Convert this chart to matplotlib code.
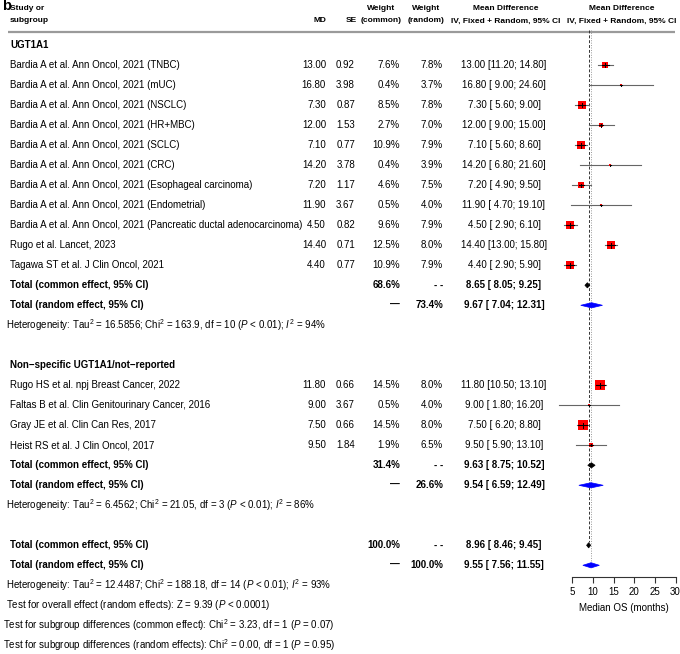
import matplotlib
matplotlib.use("Agg")
import matplotlib.pyplot as plt
from matplotlib.patches import Polygon
import numpy as np

plt.rcParams['font.family'] = ['Liberation Sans', 'DejaVu Sans']
plt.rcParams['mathtext.fontset'] = 'custom'
plt.rcParams['mathtext.rm'] = 'Liberation Sans'
plt.rcParams['mathtext.it'] = 'Liberation Sans:italic'
plt.rcParams['mathtext.bf'] = 'Liberation Sans:bold'

# ---------------- data ----------------
group1_name = "UGT1A1"
group1_studies = [
    "Bardia A et al. Ann Oncol, 2021 (TNBC)",
    "Bardia A et al. Ann Oncol, 2021 (mUC)",
    "Bardia A et al. Ann Oncol, 2021 (NSCLC)",
    "Bardia A et al. Ann Oncol, 2021 (HR+MBC)",
    "Bardia A et al. Ann Oncol, 2021 (SCLC)",
    "Bardia A et al. Ann Oncol, 2021 (CRC)",
    "Bardia A et al. Ann Oncol, 2021 (Esophageal carcinoma)",
    "Bardia A et al. Ann Oncol, 2021 (Endometrial)",
    "Bardia A et al. Ann Oncol, 2021 (Pancreatic ductal adenocarcinoma)",
    "Rugo et al. Lancet, 2023",
    "Tagawa ST et al. J Clin Oncol, 2021",
]
group1_md = [13.00, 16.80, 7.30, 12.00, 7.10, 14.20, 7.20, 11.90, 4.50, 14.40, 4.40]
group1_se = [0.92, 3.98, 0.87, 1.53, 0.77, 3.78, 1.17, 3.67, 0.82, 0.71, 0.77]
group1_wc = [7.6, 0.4, 8.5, 2.7, 10.9, 0.4, 4.6, 0.5, 9.6, 12.5, 10.9]
group1_wr = [7.8, 3.7, 7.8, 7.0, 7.9, 3.9, 7.5, 4.0, 7.9, 8.0, 7.9]
group1_lo = [11.20, 9.00, 5.60, 9.00, 5.60, 6.80, 4.90, 4.70, 2.90, 13.00, 2.90]
group1_hi = [14.80, 24.60, 9.00, 15.00, 8.60, 21.60, 9.50, 19.10, 6.10, 15.80, 5.90]
group1_common = [8.65, 8.05, 9.25]
group1_random = [9.67, 7.04, 12.31]
group1_wsum = [68.6, 73.4]
group1_het = r"Heterogeneity: Tau$^2$ = 16.5856; Chi$^2$ = 163.9, df = 10 ($\mathit{P}$ < 0.01); $\mathit{I}^2$ = 94%"

group2_name = "Non\u2212specific UGT1A1/not\u2212reported"
group2_studies = [
    "Rugo HS et al. npj Breast Cancer, 2022",
    "Faltas B et al. Clin Genitourinary Cancer, 2016",
    "Gray JE et al. Clin Can Res, 2017",
    "Heist RS et al. J Clin Oncol, 2017",
]
group2_md = [11.80, 9.00, 7.50, 9.50]
group2_se = [0.66, 3.67, 0.66, 1.84]
group2_wc = [14.5, 0.5, 14.5, 1.9]
group2_wr = [8.0, 4.0, 8.0, 6.5]
group2_lo = [10.50, 1.80, 6.20, 5.90]
group2_hi = [13.10, 16.20, 8.80, 13.10]
group2_common = [9.63, 8.75, 10.52]
group2_random = [9.54, 6.59, 12.49]
group2_wsum = [31.4, 26.6]
group2_het = r"Heterogeneity: Tau$^2$ = 6.4562; Chi$^2$ = 21.05, df = 3 ($\mathit{P}$ < 0.01); $\mathit{I}^2$ = 86%"

overall_common = [8.96, 8.46, 9.45]
overall_random = [9.55, 7.56, 11.55]
overall_wsum = [100.0, 100.0]
overall_het = r"Heterogeneity: Tau$^2$ = 12.4487; Chi$^2$ = 188.18, df = 14 ($\mathit{P}$ < 0.01); $\mathit{I}^2$ = 93%"
test_overall = r"Test for overall effect (random effects): Z = 9.39 ($\mathit{P}$ < 0.0001)"
test_sub_common = r"Test for subgroup differences (common effect): Chi$^2$ = 3.23, df = 1 ($\mathit{P}$ = 0.07)"
test_sub_random = r"Test for subgroup differences (random effects): Chi$^2$ = 0.00, df = 1 ($\mathit{P}$ = 0.95)"

x_ticks = [5, 10, 15, 20, 25, 30]
x_label = "Median OS (months)"

# ---------------- layout ----------------
W, H = 680, 654
FS = 7.0
HFS = 6.0
ROW0 = 65.3
DY = 20.0
def rowy(i):
    return ROW0 + i * DY

X_STUDY = 10
X_MD = 326
X_SE = 355
X_WC = 400
X_WR = 443
X_CI = 504
X_PLOT_C = 622

PX_PER = 4.13
PX5 = 572.3
XMIN, XMAX = 0.0, 31.0
left_px = PX5 - (5 - XMIN) * PX_PER
width_px = (XMAX - XMIN) * PX_PER

fig = plt.figure(figsize=(W / 100, H / 100), dpi=100)
ax = fig.add_axes([0, 0, 1, 1])
ax.set_xlim(0, W)
ax.set_ylim(H, 0)
ax.axis('off')

fa = fig.add_axes([left_px / W, 0, width_px / W, 1])
fa.set_xlim(XMIN, XMAX)
fa.set_ylim(H, 0)
fa.patch.set_alpha(0)
for s in ['top', 'left', 'right']:
    fa.spines[s].set_visible(False)
AXIS_Y = 577
fa.spines['bottom'].set_position(('data', AXIS_Y))
fa.spines['bottom'].set_bounds(5, 30)
fa.spines['bottom'].set_linewidth(0.8)
fa.spines['bottom'].set_color('#333333')
fa.set_xticks(x_ticks)
fa.set_xticklabels([str(t) for t in x_ticks], fontsize=FS)
fa.tick_params(axis='x', direction='out', length=4.5, width=0.8, color='#333333', pad=2.5)
fa.set_yticks([])
fa.text(17.5, 608, x_label, ha='center', va='center', fontsize=FS)

# ---------------- header ----------------
ax.text(2, 6.5, "b", fontsize=10.5, fontweight='bold', ha='left', va='center')
hy1, hy2 = 8.5, 21
ax.text(X_STUDY, hy1, "Study or", fontsize=HFS, fontweight='bold', ha='left', va='center')
ax.text(X_STUDY, hy2, "subgroup", fontsize=HFS, fontweight='bold', ha='left', va='center')
ax.text(X_MD, hy2, "MD", fontsize=HFS, fontweight='bold', ha='right', va='center')
ax.text(X_SE + 2, hy2, "SE", fontsize=HFS, fontweight='bold', ha='right', va='center')
ax.text(381, hy1, "Weight", fontsize=HFS, fontweight='bold', ha='center', va='center')
ax.text(381, hy2, "(common)", fontsize=HFS, fontweight='bold', ha='center', va='center')
ax.text(426, hy1, "Weight", fontsize=HFS, fontweight='bold', ha='center', va='center')
ax.text(426, hy2, "(random)", fontsize=HFS, fontweight='bold', ha='center', va='center')
ax.text(505.5, hy1, "Mean Difference", fontsize=HFS, fontweight='bold', ha='center', va='center')
ax.text(505.5, hy2, "IV, Fixed + Random, 95% CI", fontsize=HFS, fontweight='bold', ha='center', va='center')
ax.text(X_PLOT_C, hy1, "Mean Difference", fontsize=HFS, fontweight='bold', ha='center', va='center')
ax.text(X_PLOT_C, hy2, "IV, Fixed + Random, 95% CI", fontsize=HFS, fontweight='bold', ha='center', va='center')
ax.plot([8, 675], [32, 32], color='#9a9a9a', lw=1.6, solid_capstyle='butt')

def ci_str(m, lo, hi):
    return f"{m:.2f} [{lo:5.2f}; {hi:.2f}]"

def draw_study(i, name, md, se, wc, wr, lo, hi):
    y = rowy(i)
    ax.text(X_STUDY, y, name, fontsize=FS, ha='left', va='center')
    ax.text(X_MD, y, f"{md:.2f}", fontsize=FS, ha='right', va='center')
    ax.text(X_SE, y, f"{se:.2f}", fontsize=FS, ha='right', va='center')
    ax.text(X_WC, y, f"{wc:.1f}%", fontsize=FS, ha='right', va='center')
    ax.text(X_WR, y, f"{wr:.1f}%", fontsize=FS, ha='right', va='center')
    ax.text(X_CI, y, ci_str(md, lo, hi), fontsize=FS, ha='center', va='center')
    fa.plot([lo, hi], [y, y], color='#666666', lw=0.8, zorder=3, clip_on=False)
    side_px = 2.45 * np.sqrt(wc)
    side_pt = side_px * 0.72
    fa.scatter([md], [y], marker='s', s=side_pt ** 2, color='#ff0000', linewidths=0, zorder=4, clip_on=False)
    half = side_px / 2 / PX_PER
    fa.plot([max(lo, md - half), min(hi, md + half)], [y, y], color='black', lw=0.8, zorder=5, clip_on=False)
    fa.plot([md, md], [y - side_px * 0.3, y + side_px * 0.3], color='black', lw=0.7, zorder=5, clip_on=False)

def draw_total(i, label, est, wtxt_c, wtxt_r, color, hh):
    y = rowy(i)
    m, lo, hi = est
    ax.text(X_STUDY, y, label, fontsize=FS, fontweight='bold', ha='left', va='center')
    ax.text(X_WC, y, wtxt_c, fontsize=FS, fontweight='bold', ha='right', va='center')
    ax.text(X_WR, y, wtxt_r, fontsize=FS, fontweight='bold', ha='right', va='center')
    ax.text(X_CI, y, ci_str(m, lo, hi), fontsize=FS, fontweight='bold', ha='center', va='center')
    poly = Polygon([[lo, y], [m, y - hh], [hi, y], [m, y + hh]], closed=True,
                   facecolor=color, edgecolor=color, lw=0.5, zorder=5, clip_on=False)
    fa.add_patch(poly)

# ---------------- group 1 ----------------
ax.text(X_STUDY, rowy(-1), group1_name, fontsize=FS, fontweight='bold', ha='left', va='center')
for k in range(len(group1_studies)):
    draw_study(k, group1_studies[k], group1_md[k], group1_se[k], group1_wc[k],
               group1_wr[k], group1_lo[k], group1_hi[k])
n1 = len(group1_studies)
draw_total(n1, "Total (common effect, 95% CI)", group1_common, f"{group1_wsum[0]:.1f}%", "- -", 'black', 2.6)
draw_total(n1 + 1, "Total (random effect, 95% CI)", group1_random, "\u2014", f"{group1_wsum[1]:.1f}%", '#0000ff', 2.6)
ax.text(6, rowy(n1 + 2), group1_het, fontsize=FS, ha='left', va='center')

# ---------------- group 2 ----------------
g2 = n1 + 4
ax.text(X_STUDY, rowy(g2), group2_name, fontsize=FS, fontweight='bold', ha='left', va='center')
for k in range(len(group2_studies)):
    draw_study(g2 + 1 + k, group2_studies[k], group2_md[k], group2_se[k], group2_wc[k],
               group2_wr[k], group2_lo[k], group2_hi[k])
n2 = g2 + 1 + len(group2_studies)
draw_total(n2, "Total (common effect, 95% CI)", group2_common, f"{group2_wsum[0]:.1f}%", "- -", 'black', 2.6)
draw_total(n2 + 1, "Total (random effect, 95% CI)", group2_random, "\u2014", f"{group2_wsum[1]:.1f}%", '#0000ff', 2.6)
ax.text(6, rowy(n2 + 2), group2_het, fontsize=FS, ha='left', va='center')

# ---------------- overall ----------------
g3 = n2 + 4
draw_total(g3, "Total (common effect, 95% CI)", overall_common, f"{overall_wsum[0]:.1f}%", "- -", 'black', 2.6)
draw_total(g3 + 1, "Total (random effect, 95% CI)", overall_random, "\u2014", f"{overall_wsum[1]:.1f}%", '#0000ff', 2.6)
ax.text(6, rowy(g3 + 2), overall_het, fontsize=FS, ha='left', va='center')
ax.text(6, rowy(g3 + 3), test_overall, fontsize=FS, ha='left', va='center')
ax.text(3, rowy(g3 + 4), test_sub_common, fontsize=FS, ha='left', va='center')
ax.text(3, rowy(g3 + 5), test_sub_random, fontsize=FS, ha='left', va='center')

# reference lines
fa.plot([overall_common[0]] * 2, [30, rowy(g3) - 3], color='#333333', lw=0.7,
        linestyle=(0, (3, 2)), zorder=2, clip_on=False)
fa.plot([overall_random[0]] * 2, [30, rowy(g3 + 1) - 3], color='#999999', lw=0.7,
        linestyle=(0, (1, 1.5)), zorder=2, clip_on=False)

fig.savefig("out.png", dpi=100)
